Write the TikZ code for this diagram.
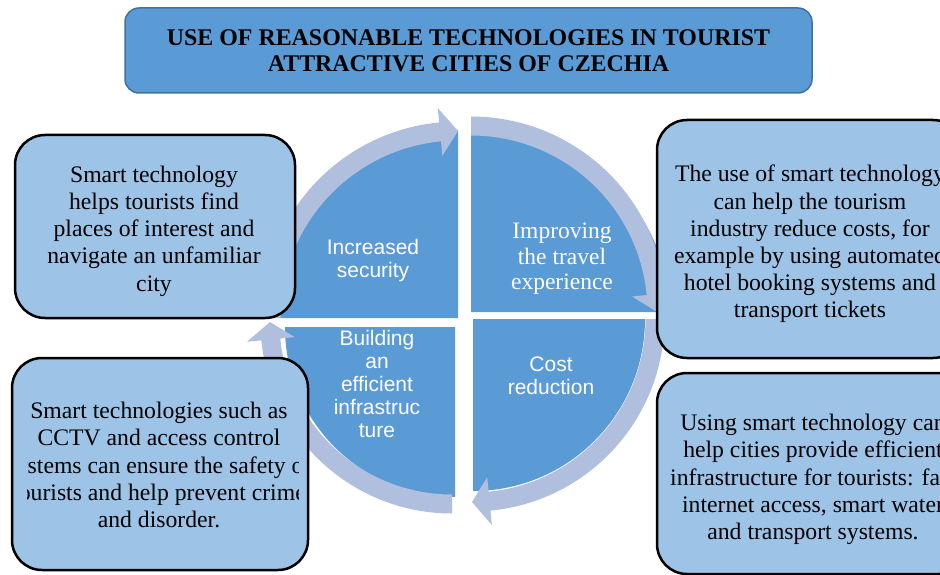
\documentclass[tikz,border=0pt]{standalone}
\usepackage{fontspec}
\setmainfont{Liberation Serif}
\newfontfamily\armfont{Liberation Sans}
\definecolor{wedgeblue}{HTML}{5B9BD5}
\definecolor{ringblue}{HTML}{B0BFDE}
\definecolor{boxblue}{HTML}{9DC3E6}
\definecolor{titleline}{HTML}{41719C}
\newcommand{\boxfont}{\fontsize{23.7}{27.2}\selectfont}
\newcommand{\segfont}{\armfont\fontsize{21}{22.8}\selectfont}
% curved arrow round one quarter: center, tail angle, tip angle, mid radius
\newcommand{\cyclearrow}[4]{%
  \begin{scope}[shift={#1}]
    \pgfmathsetmacro{\rin}{#4-9.5}
    \pgfmathsetmacro{\rout}{#4+9.5}
    \pgfmathsetmacro{\hbase}{#3+5.5}
    \fill[ring] (#2:\rin) arc[start angle=#2, end angle=\hbase, radius=\rin]
      -- (\hbase:#4-24) -- (#3:#4) -- (\hbase:#4+24) -- (\hbase:\rout)
      arc[start angle=\hbase, end angle=#2, radius=\rout] -- cycle;
  \end{scope}}

\begin{document}
\begin{tikzpicture}[x=1pt, y=1pt,
  wedge/.style={fill=wedgeblue},
  ring/.style={fill=ringblue},
  infobox/.style={draw=black, line width=2.5pt, fill=boxblue, rounded corners=30pt,
    inner sep=0pt},
  boxtext/.style={align=center, font=\boxfont, inner sep=0pt},
  seglabel/.style={text=white, align=center, inner sep=0pt}]
\useasboundingbox (0,0) rectangle (940,-575);
\clip (0,0) rectangle (940,-575);

% segments of the cycle
\fill[wedge] (458,-318) -- ++(0,188) arc[start angle=90, end angle=180, radius=188] -- cycle;
\fill[wedge] (471,-312) -- ++(0,186) arc[start angle=90, end angle=0, x radius=198, y radius=186] -- cycle;
\fill[wedge] (473,-319) -- ++(172,0) arc[start angle=0, end angle=-90, radius=172] -- cycle;
\fill[wedge] (455,-327) -- ++(0,-170) arc[start angle=-90, end angle=-180, radius=170] -- cycle;

\node[seglabel, font=\segfont] (security) at (373,-260.5) {Increased\\security};
\node[seglabel, font=\fontsize{23.5}{25.5}\selectfont] (travel) at (562,-259) {Improving\\the travel\\experience};
\node[seglabel, font=\segfont] (infra) at (377,-384) {Building\\an\\efficient\\infrastruc\\ture};
\node[seglabel, font=\segfont] (cost) at (551,-376) {Cost\\reduction};

% arrows round the segments
\cyclearrow{(458,-318)}{180}{90}{187}
\cyclearrow{(471,-312)}{90}{0}{186}
\cyclearrow{(472,-319)}{0}{-90}{183}
\cyclearrow{(452,-322)}{-90}{-180}{182}

% boxes
\node[infobox, minimum width=280, minimum height=183] (navigate) at (155,-226.5) {};
\node[boxtext] (navigatetext) at (154,-231)
  {Smart technology\\helps tourists find\\places of interest and\\navigate an unfamiliar\\city};
\node[infobox, minimum width=306, minimum height=238] (costs) at (810,-239) {};
\node[boxtext] (coststext) at (810,-244)
  {The use of smart technology\\can help the tourism\\industry reduce costs, for\\example by using automated\\hotel booking systems and\\transport tickets};
\node[infobox, minimum width=296, minimum height=212] (safety) at (160,-464) {};
\begin{scope}
  \clip (27,-358) rectangle (298,-570);
  \node[boxtext] (safetytext) at (159,-465)
    {Smart technologies such as\\CCTV and access control\\systems can ensure the safety of\\tourists and help prevent crime\\and disorder.};
\end{scope}
\node[infobox, minimum width=312, minimum height=201] (network) at (813,-473.5) {};
\node[boxtext] (networktext) at (813,-479.5)
  {Using smart technology can\\help cities provide efficient\\infrastructure for tourists: fast\\internet access, smart water\\and transport systems.};

% title
\node[draw=titleline, line width=1.5pt, fill=wedgeblue, rounded corners=14pt,
  minimum width=687, minimum height=85, align=center,
  font=\bfseries\fontsize{23.9}{26.2}\selectfont] (title) at (468.5,-50.5)
  {USE OF REASONABLE TECHNOLOGIES IN TOURIST\\ATTRACTIVE CITIES OF CZECHIA};
\end{tikzpicture}
\end{document}
